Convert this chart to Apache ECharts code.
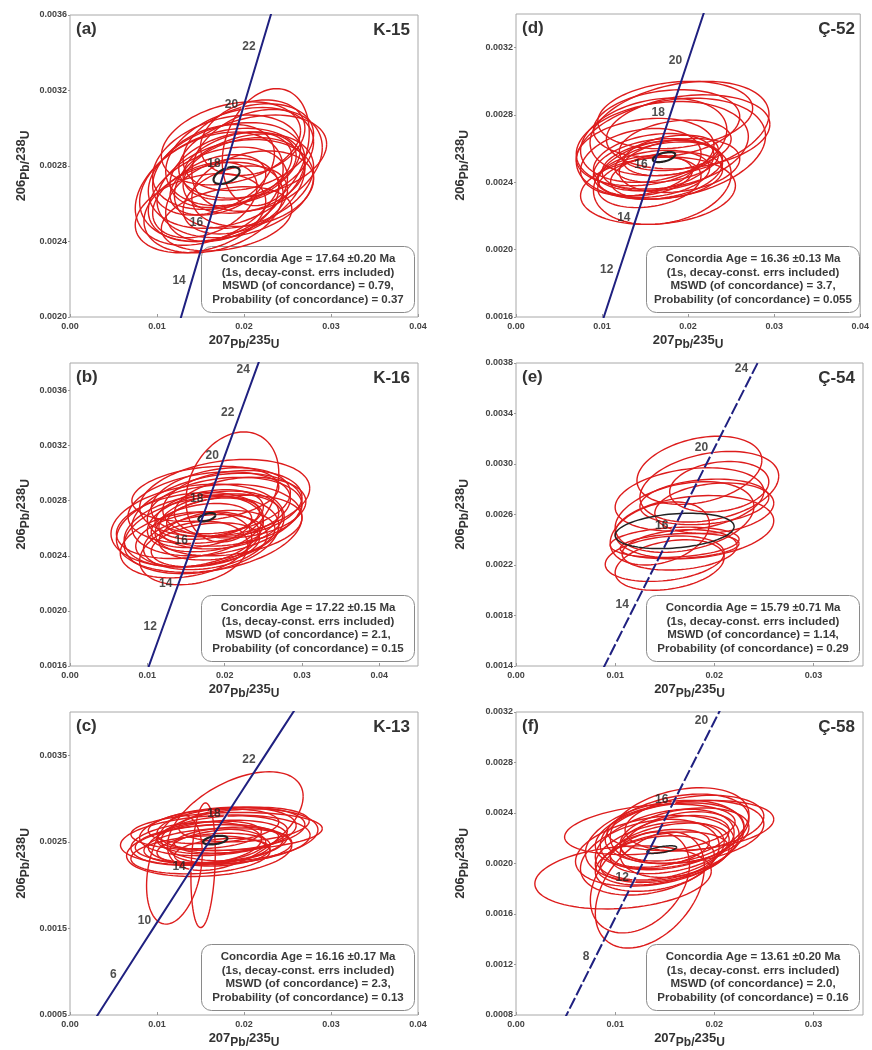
<!DOCTYPE html>
<html>
<head>
<meta charset="utf-8">
<script src="https://cdn.jsdelivr.net/npm/echarts@6/dist/echarts.min.js"></script>
<style>
html, body { margin: 0; padding: 0; background: #fff; }
#chart { width: 872px; height: 1050px; }
</style>
</head>
<body>
<div id="chart"></div>
<script>
// decay constants (1/yr), used to place the concordia curve from ages
var L238 = 1.55125e-10;
var L235 = 9.8485e-10;

// ages (Ma) along the concordia curve
var curveAges = [0, 2, 4, 6, 8, 10, 12, 14, 16, 18, 20, 22, 24, 26, 28, 30];

// analyses: [207Pb/235U, err, 206Pb/238U, err, rho]
var ellA = [
	[0.0180, 0.0090, 0.00275, 0.00028, 0.3], [0.0195, 0.0085, 0.00285, 0.00026, 0.3],
	[0.0170, 0.0080, 0.00265, 0.00025, 0.35], [0.0205, 0.0075, 0.00290, 0.00023, 0.3],
	[0.0160, 0.0085, 0.00268, 0.00030, 0.35], [0.0215, 0.0075, 0.00283, 0.00027, 0.25],
	[0.0185, 0.0070, 0.00278, 0.00020, 0.35], [0.0175, 0.0065, 0.00262, 0.00022, 0.3],
	[0.0200, 0.0080, 0.00272, 0.00025, 0.3], [0.0165, 0.0070, 0.00278, 0.00024, 0.35],
	[0.0225, 0.0050, 0.00290, 0.00031, 0.25], [0.0150, 0.0075, 0.00255, 0.00021, 0.3],
	[0.0190, 0.0060, 0.00262, 0.00018, 0.3], [0.0210, 0.0070, 0.00268, 0.00020, 0.25],
	[0.0185, 0.0080, 0.00292, 0.00022, 0.3], [0.0170, 0.0055, 0.00270, 0.00016, 0.35],
	[0.0195, 0.0065, 0.00280, 0.00018, 0.3], [0.0155, 0.0060, 0.00262, 0.00020, 0.35],
	[0.0210, 0.0085, 0.00285, 0.00022, 0.3], [0.0180, 0.0075, 0.00252, 0.00017, 0.3],
	[0.0175, 0.0095, 0.00270, 0.00030, 0.3], [0.0200, 0.0070, 0.00275, 0.00020, 0.25],
	[0.0165, 0.0080, 0.00258, 0.00024, 0.3], [0.0190, 0.0090, 0.00268, 0.00026, 0.25],
	[0.0210, 0.0060, 0.00295, 0.00020, 0.25], [0.0180, 0.0085, 0.00282, 0.00025, 0.3]
];
var concA = [0.0180, 0.0015, 0.00275, 0.000045, 0.5];
var tickAgesA = [14, 16, 18, 20, 22];
var tickTextA = ['14', '16', '18', '20', '22'];
var infoA = ['Concordia Age = 17.64 \u00b10.20 Ma', '(1s, decay-const. errs included)', 'MSWD (of concordance) = 0.79,', 'Probability (of concordance) = 0.37'];

var ellD = [
	[0.0180, 0.0110, 0.00260, 0.00030, 0.25], [0.0190, 0.0104, 0.00272, 0.00028, 0.3],
	[0.0150, 0.0080, 0.00258, 0.00020, 0.2], [0.0170, 0.0070, 0.00250, 0.00015, 0.25],
	[0.0160, 0.0065, 0.00245, 0.00014, 0.25], [0.0175, 0.0060, 0.00252, 0.00012, 0.3],
	[0.0165, 0.0075, 0.00248, 0.00018, 0.2], [0.0185, 0.0065, 0.00262, 0.00015, 0.25],
	[0.0155, 0.0060, 0.00240, 0.00015, 0.25], [0.0170, 0.0080, 0.00240, 0.00025, 0.2],
	[0.0200, 0.0095, 0.00270, 0.00022, 0.2], [0.0160, 0.0085, 0.00265, 0.00025, 0.25],
	[0.0145, 0.0070, 0.00252, 0.00020, 0.25], [0.0180, 0.0055, 0.00256, 0.00012, 0.3],
	[0.0150, 0.0055, 0.00244, 0.00012, 0.25], [0.0190, 0.0070, 0.00250, 0.00016, 0.25],
	[0.0165, 0.0090, 0.00235, 0.00020, 0.15], [0.0175, 0.0085, 0.00275, 0.00020, 0.2],
	[0.0170, 0.0100, 0.00262, 0.00026, 0.2], [0.0185, 0.0090, 0.00280, 0.00020, 0.2],
	[0.0160, 0.0070, 0.00252, 0.00017, 0.25], [0.0175, 0.0065, 0.00244, 0.00014, 0.25]
];
var concD = [0.0172, 0.0013, 0.00255, 0.00003, 0.5];
var tickAgesD = [12, 14, 16, 18, 20];
var tickTextD = ['12', '14', '16', '18', '20'];
var infoD = ['Concordia Age = 16.36 \u00b10.13 Ma', '(1s, decay-const. errs included)', 'MSWD (of concordance) = 3.7,', 'Probability (of concordance) = 0.055'];

var ellB = [
	[0.0180, 0.0120, 0.00260, 0.00032, 0.25], [0.0190, 0.0110, 0.00270, 0.00030, 0.3],
	[0.0170, 0.0100, 0.00255, 0.00028, 0.25], [0.0200, 0.0100, 0.00272, 0.00025, 0.2],
	[0.0160, 0.0090, 0.00258, 0.00026, 0.25], [0.0210, 0.0060, 0.00290, 0.00040, 0.25],
	[0.0185, 0.0085, 0.00265, 0.00022, 0.3], [0.0175, 0.0080, 0.00250, 0.00020, 0.25],
	[0.0195, 0.0090, 0.00280, 0.00024, 0.25], [0.0165, 0.0112, 0.00262, 0.00030, 0.2],
	[0.0205, 0.0095, 0.00262, 0.00022, 0.25], [0.0150, 0.0085, 0.00248, 0.00024, 0.25],
	[0.0180, 0.0070, 0.00270, 0.00018, 0.3], [0.0190, 0.0075, 0.00255, 0.00018, 0.25],
	[0.0170, 0.0065, 0.00262, 0.00016, 0.3], [0.0220, 0.0085, 0.00275, 0.00022, 0.2],
	[0.0160, 0.0070, 0.00242, 0.00023, 0.25], [0.0200, 0.0110, 0.00282, 0.00028, 0.25],
	[0.0185, 0.0060, 0.00268, 0.00014, 0.3], [0.0175, 0.0095, 0.00285, 0.00020, 0.25],
	[0.0180, 0.0105, 0.00275, 0.00026, 0.25], [0.0165, 0.0080, 0.00252, 0.00020, 0.25],
	[0.0195, 0.0080, 0.00265, 0.00020, 0.2], [0.0155, 0.0095, 0.00262, 0.00024, 0.25],
	[0.0210, 0.0090, 0.00278, 0.00024, 0.2], [0.0175, 0.0070, 0.00248, 0.00016, 0.3]
];
var concB = [0.0177, 0.0011, 0.00268, 0.00003, 0.5];
var tickAgesB = [12, 14, 16, 18, 20, 22, 24];
var tickTextB = ['12', '14', '16', '18', '20', '22', '24'];
var infoB = ['Concordia Age = 17.22 \u00b10.15 Ma', '(1s, decay-const. errs included)', 'MSWD (of concordance) = 2.1,', 'Probability (of concordance) = 0.15'];

var ellE = [
	[0.0185, 0.0063, 0.00295, 0.00027, 0.3], [0.0195, 0.0070, 0.00282, 0.00028, 0.3],
	[0.0175, 0.0075, 0.00272, 0.00025, 0.25], [0.0200, 0.0060, 0.00265, 0.00020, 0.2],
	[0.0170, 0.0070, 0.00258, 0.00028, 0.3], [0.0145, 0.0050, 0.00245, 0.00025, 0.3],
	[0.0160, 0.0065, 0.00238, 0.00012, 0.2], [0.0165, 0.0060, 0.00235, 0.00010, 0.2],
	[0.0150, 0.0060, 0.00225, 0.00018, 0.25], [0.0155, 0.0055, 0.00220, 0.00020, 0.3],
	[0.0180, 0.0080, 0.00250, 0.00025, 0.2], [0.0190, 0.0065, 0.00270, 0.00018, 0.2],
	[0.0165, 0.0058, 0.00232, 0.00016, 0.2], [0.0205, 0.0050, 0.00282, 0.00020, 0.2]
];
var concE = [0.0160, 0.0060, 0.00247, 0.00014, 0.25];
var tickAgesE = [12, 16, 20, 24];
var tickTextE = ['14', '16', '20', '24'];
var infoE = ['Concordia Age = 15.79 \u00b10.71 Ma', '(1s, decay-const. errs included)', 'MSWD (of concordance) = 1.14,', 'Probability (of concordance) = 0.29'];

var ellC = [
	[0.0190, 0.0078, 0.00274, 0.00057, 0.5], [0.0120, 0.0032, 0.00218, 0.00063, 0.3],
	[0.0153, 0.0014, 0.00223, 0.00072, 0.2], [0.0167, 0.0109, 0.00252, 0.00029, 0.2],
	[0.0180, 0.0110, 0.00262, 0.00022, 0.15], [0.0160, 0.0095, 0.00240, 0.00030, 0.2],
	[0.0170, 0.0080, 0.00250, 0.00025, 0.25], [0.0175, 0.0075, 0.00258, 0.00022, 0.25],
	[0.0155, 0.0070, 0.00245, 0.00020, 0.25], [0.0185, 0.0085, 0.00265, 0.00025, 0.2],
	[0.0165, 0.0065, 0.00242, 0.00018, 0.25], [0.0200, 0.0075, 0.00270, 0.00020, 0.2],
	[0.0150, 0.0080, 0.00235, 0.00022, 0.2], [0.0180, 0.0060, 0.00252, 0.00015, 0.25],
	[0.0160, 0.0060, 0.00258, 0.00016, 0.25], [0.0195, 0.0090, 0.00258, 0.00030, 0.2],
	[0.0145, 0.0075, 0.00248, 0.00025, 0.2], [0.0175, 0.0055, 0.00238, 0.00016, 0.25],
	[0.0170, 0.0090, 0.00262, 0.00028, 0.25], [0.0160, 0.0085, 0.00248, 0.00022, 0.2],
	[0.0185, 0.0070, 0.00245, 0.00020, 0.2], [0.0165, 0.0075, 0.00268, 0.00020, 0.25]
];
var concC = [0.0167, 0.0014, 0.00252, 0.00005, 0.4];
var tickAgesC = [6, 10, 14, 18, 22];
var tickTextC = ['6', '10', '14', '18', '22'];
var infoC = ['Concordia Age = 16.16 \u00b10.17 Ma', '(1s, decay-const. errs included)', 'MSWD (of concordance) = 2.3,', 'Probability (of concordance) = 0.13'];

var ellF = [
	[0.0108, 0.0089, 0.00189, 0.00025, 0.2], [0.0135, 0.0086, 0.00227, 0.00020, 0.3],
	[0.0176, 0.0084, 0.00230, 0.00020, 0.25], [0.0135, 0.0055, 0.00179, 0.00046, 0.4],
	[0.0125, 0.0050, 0.00185, 0.00040, 0.35], [0.0160, 0.0075, 0.00225, 0.00030, 0.35],
	[0.0165, 0.0070, 0.00230, 0.00030, 0.3], [0.0150, 0.0070, 0.00215, 0.00028, 0.35],
	[0.0145, 0.0065, 0.00208, 0.00025, 0.35], [0.0155, 0.0060, 0.00212, 0.00020, 0.35],
	[0.0140, 0.0060, 0.00200, 0.00022, 0.3], [0.0170, 0.0065, 0.00222, 0.00022, 0.3],
	[0.0150, 0.0080, 0.00218, 0.00032, 0.3], [0.0160, 0.0055, 0.00220, 0.00018, 0.35],
	[0.0135, 0.0070, 0.00205, 0.00030, 0.3], [0.0180, 0.0070, 0.00232, 0.00022, 0.25],
	[0.0145, 0.0050, 0.00212, 0.00015, 0.35], [0.0165, 0.0060, 0.00215, 0.00026, 0.3],
	[0.0155, 0.0075, 0.00222, 0.00026, 0.3], [0.0140, 0.0080, 0.00210, 0.00028, 0.3],
	[0.0170, 0.0080, 0.00225, 0.00025, 0.25], [0.0150, 0.0065, 0.00205, 0.00020, 0.35]
];
var concF = [0.0147, 0.0015, 0.00211, 0.00003, 0.6];
var tickAgesF = [8, 12, 16, 20];
var tickTextF = ['8', '12', '16', '20'];
var infoF = ['Concordia Age = 13.61 \u00b10.20 Ma', '(1s, decay-const. errs included)', 'MSWD (of concordance) = 2.0,', 'Probability (of concordance) = 0.16'];

// panel layout
var panels = [
	{ tag: '(a)', sample: 'K-15', left: 70, top: 15, w: 348, h: 302, gap: 38, x: [0, 0.04], y: [0.0020, 0.0036, 0.0004], ell: ellA, conc: concA, ages: tickAgesA, text: tickTextA, info: infoA, dash: false },
	{ tag: '(d)', sample: '\u00c7-52', left: 516, top: 14, w: 347, h: 303, gap: 45, x: [0, 0.04], y: [0.0016, 0.0034, 0.0004], ell: ellD, conc: concD, ages: tickAgesD, text: tickTextD, info: infoD, dash: false },
	{ tag: '(b)', sample: 'K-16', left: 70, top: 363, w: 348, h: 303, gap: 38, x: [0, 0.045], y: [0.0016, 0.0038, 0.0004], ell: ellB, conc: concB, ages: tickAgesB, text: tickTextB, info: infoB, dash: false },
	{ tag: '(e)', sample: '\u00c7-54', left: 516, top: 363, w: 347, h: 303, gap: 45, x: [0, 0.035], y: [0.0014, 0.0038, 0.0004], ell: ellE, conc: concE, ages: tickAgesE, text: tickTextE, info: infoE, dash: true },
	{ tag: '(c)', sample: 'K-13', left: 70, top: 712, w: 348, h: 303, gap: 38, x: [0, 0.04], y: [0.0005, 0.0040, 0.001], ell: ellC, conc: concC, ages: tickAgesC, text: tickTextC, info: infoC, dash: false },
	{ tag: '(f)', sample: '\u00c7-58', left: 516, top: 712, w: 347, h: 303, gap: 45, x: [0, 0.035], y: [0.0008, 0.0032, 0.0004], ell: ellF, conc: concF, ages: tickAgesF, text: tickTextF, info: infoF, dash: true }
];

function ratios(t) {
	return [Math.exp(L235 * t * 1e6) - 1, Math.exp(L238 * t * 1e6) - 1];
}

function ellipseRenderer(color, width) {
	return function(params, api) {
		var x = api.value(0), sx = api.value(1), y = api.value(2), sy = api.value(3), r = api.value(4);
		var q = Math.sqrt(1 - r * r);
		var pts = [];
		for (var k = 0; k <= 90; k++) {
			var a = k / 90 * Math.PI * 2;
			var c = Math.cos(a), s = Math.sin(a);
			pts.push(api.coord([x + sx * c, y + sy * (r * c + q * s)]));
		}
		return { type: 'polyline', shape: { points: pts }, style: { fill: 'none', stroke: color, lineWidth: width } };
	};
}

var font = 'Arial';
var nameRich = {
	n: { fontSize: 13, fontWeight: 'bold', color: '#333', fontFamily: font, verticalAlign: 'top', lineHeight: 17 },
	s: { fontSize: 12, fontWeight: 'bold', color: '#333', fontFamily: font, verticalAlign: 'bottom', lineHeight: 17 }
};

var option = { animation: false, backgroundColor: '#fff', grid: [], xAxis: [], yAxis: [], series: [], graphic: [] };

panels.forEach(function(p, i) {
	var xmaxShown = (p.x[1] * 100) % 1 === 0;
	var ySteps = (p.y[1] - p.y[0]) / p.y[2];
	option.grid.push({ left: p.left, top: p.top, width: p.w, height: p.h, show: true, borderColor: '#a8a8a8', borderWidth: 1 });
	option.xAxis.push({
		gridIndex: i, type: 'value', min: p.x[0], max: p.x[1], interval: 0.01,
		name: '{n|207}{s|Pb/}{n|235}{s|U}', nameLocation: 'middle', nameGap: 17,
		nameTextStyle: { rich: nameRich },
		axisLine: { show: false },
		axisTick: { show: true, inside: true, length: 3, lineStyle: { color: '#999' } },
		splitLine: { show: false },
		axisLabel: { margin: 5, fontSize: 9, fontWeight: 'bold', color: '#444', fontFamily: font, showMaxLabel: xmaxShown,
			formatter: function(v) { return v.toFixed(2); } }
	});
	option.yAxis.push({
		gridIndex: i, type: 'value', min: p.y[0], max: p.y[1], interval: p.y[2],
		name: '{n|206}{s|Pb/}{n|238}{s|U}', nameLocation: 'middle', nameGap: p.gap,
		nameTextStyle: { rich: nameRich },
		axisLine: { show: false },
		axisTick: { show: true, length: 2, lineStyle: { color: '#999' } },
		splitLine: { show: false },
		axisLabel: { margin: 3, fontSize: 9, fontWeight: 'bold', color: '#444', fontFamily: font,
			showMaxLabel: Math.abs(ySteps - Math.round(ySteps)) < 1e-6,
			formatter: function(v) { return v.toFixed(4); } }
	});

	option.series.push({
		type: 'custom', xAxisIndex: i, yAxisIndex: i, clip: true, silent: true,
		encode: { x: 0, y: 2 }, data: p.ell, renderItem: ellipseRenderer('#dd1c1c', 1.4)
	});
	option.series.push({
		type: 'line', xAxisIndex: i, yAxisIndex: i, clip: true, showSymbol: false, silent: true,
		data: curveAges.map(ratios),
		lineStyle: { color: '#1f2080', width: 2, type: p.dash ? [12, 3] : 'solid' }
	});
	option.series.push({
		type: 'custom', xAxisIndex: i, yAxisIndex: i, clip: true, silent: true,
		encode: { x: 0, y: 2 }, data: [p.conc], renderItem: ellipseRenderer('#222', p.dash ? 1.5 : 2.2)
	});
	option.series.push({
		type: 'scatter', xAxisIndex: i, yAxisIndex: i, silent: true,
		symbol: 'circle', symbolSize: 4, itemStyle: { color: '#fff' },
		data: p.ages.map(function(t, k) { var r = ratios(t); return { value: r, name: p.text[k] }; }),
		label: { show: true, position: 'left', distance: 3, offset: [0, -3], formatter: '{b}',
			fontSize: 12, fontWeight: 'bold', color: '#222', fontFamily: font }
	});

	var bw = 213, bh = 66;
	option.graphic.push({
		type: 'group', left: p.left + p.w - bw - 4, top: p.top + p.h - bh - 5,
		children: [
			{ type: 'rect', shape: { x: 0, y: 0, width: bw, height: bh, r: 10 }, style: { fill: '#fff', stroke: '#8a8a8a', lineWidth: 1 } },
			{ type: 'text', x: bw / 2, y: bh / 2, style: { text: p.info.join('\n'), align: 'center', verticalAlign: 'middle',
				font: 'bold 11.5px Arial', fill: '#3a3a3a', lineHeight: 13.5 } }
		]
	});
	option.graphic.push({ type: 'text', left: p.left + 6, top: p.top + 6,
		style: { text: p.tag, font: 'bold 17px Arial', fill: '#333' } });
	option.graphic.push({ type: 'text', right: 872 - (p.left + p.w) + 8, top: p.top + 7,
		style: { text: p.sample, font: 'bold 17px Arial', fill: '#333' } });
});

var chart = echarts.init(document.getElementById('chart'));
chart.setOption(option);
</script>
</body>
</html>
